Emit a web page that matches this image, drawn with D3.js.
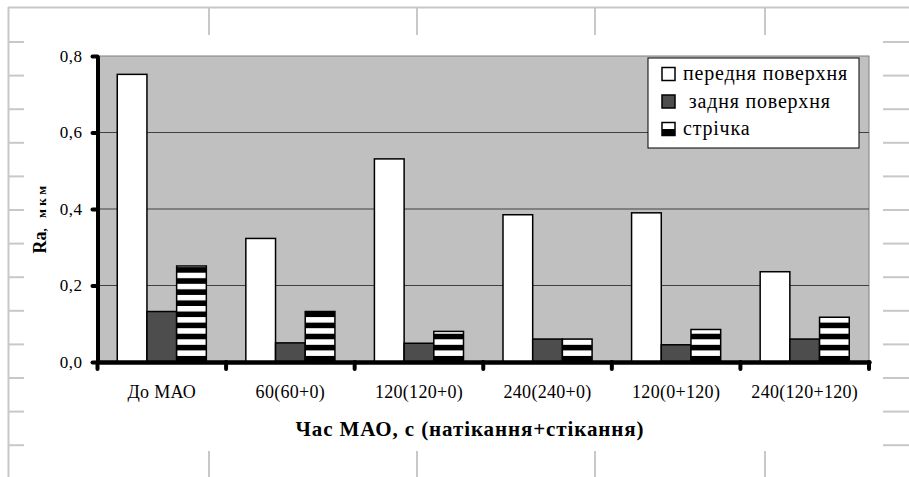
<!DOCTYPE html>
<html><head><meta charset="utf-8">
<script src="https://cdn.jsdelivr.net/npm/d3@7/dist/d3.min.js"></script>
</head><body style="margin:0;background:#fff">
<script>
const categories = ["До МАО","60(60+0)","120(120+0)","240(240+0)","120(0+120)","240(120+120)"];
const seriesNames = ["передня поверхня"," задня поверхня","стрічка"];
const front = [0.752,0.323,0.531,0.385,0.390,0.236];
const back  = [0.132,0.050,0.049,0.060,0.045,0.060];
const strip = [0.251,0.132,0.080,0.060,0.085,0.117];
const yTicks = [0,0.2,0.4,0.6,0.8];
const xTitle = "Час МАО, с (натікання+стікання)";

const FONT='"Liberation Serif", "Times New Roman", serif';
const W=909,H=477;
const svg=d3.select("body").append("svg").attr("width",W).attr("height",H).style("display","block");
const defs=svg.append("defs");
const pat=defs.append("pattern").attr("id","stripes").attr("patternUnits","userSpaceOnUse")
  .attr("x",0).attr("y",272.7).attr("width",10).attr("height",11.1);
pat.append("rect").attr("width",10).attr("height",11.1).attr("fill","#000");
pat.append("rect").attr("width",10).attr("height",5.5).attr("fill","#fff");

// spreadsheet cell grid around the chart
const grid=svg.append("g").attr("stroke","#c8c8c8").attr("stroke-width",2);
grid.append("line").attr("x1",8).attr("x2",W).attr("y1",7.5).attr("y2",7.5);
grid.append("line").attr("x1",8.5).attr("x2",8.5).attr("y1",7).attr("y2",H);
[209,417,595,765].forEach(x=>{
  grid.append("line").attr("x1",x).attr("x2",x).attr("y1",8).attr("y2",35);
  grid.append("line").attr("x1",x).attr("x2",x).attr("y1",451).attr("y2",H);
});
d3.range(13).forEach(i=>{
  const yy=42+i*33.6;
  grid.append("line").attr("x1",8).attr("x2",24).attr("y1",yy).attr("y2",yy);
  grid.append("line").attr("x1",883).attr("x2",W).attr("y1",yy).attr("y2",yy);
});

const m={l:97.5,r:869,t:56,b:362};
const x0=d3.scaleBand().domain(categories).range([m.l,m.r]).padding(0);
const x1=d3.scaleBand().domain(seriesNames).range([0,x0.bandwidth()]).paddingInner(0).paddingOuter(0.665);
const y=d3.scaleLinear().domain([0,0.8]).range([m.b,m.t]);

svg.append("rect").attr("x",m.l).attr("y",m.t).attr("width",m.r-m.l).attr("height",m.b-m.t)
  .attr("fill","#c0c0c0").attr("stroke","#808080").attr("stroke-width",1);
svg.append("g").selectAll("line").data(yTicks.filter(v=>v>0&&v<0.8)).join("line")
  .attr("x1",m.l).attr("x2",m.r).attr("y1",d=>y(d)).attr("y2",d=>y(d))
  .attr("stroke","#404040").attr("stroke-width",1);

const series=[front,back,strip];
const fills=["#fff","#4d4d4d","url(#stripes)"];
const data=[];
categories.forEach((c,i)=>seriesNames.forEach((s,j)=>data.push({c,s,j,v:series[j][i]})));
svg.append("g").selectAll("rect").data(data).join("rect")
  .attr("x",d=>x0(d.c)+x1(d.s)).attr("width",x1.bandwidth())
  .attr("y",d=>y(d.v)).attr("height",d=>y(0)-y(d.v))
  .attr("fill",d=>fills[d.j]).attr("stroke","#000").attr("stroke-width",1.5);

// y axis
const fmt=v=>d3.format(".1f")(v).replace(".",",");
const ya=svg.append("g").attr("transform",`translate(${m.l},0)`)
  .call(d3.axisLeft(y).tickValues(yTicks).tickFormat(fmt).tickSize(5).tickSizeOuter(0).tickPadding(10));
ya.select(".domain").attr("stroke","#000").attr("stroke-width",4);
ya.selectAll(".tick line").attr("stroke","#000").attr("stroke-width",4).attr("stroke-linecap","round");
ya.selectAll("text").style("font-family",FONT).style("font-size","17px").attr("fill","#000")
  .attr("letter-spacing",0.5);

// x axis
const xa=svg.append("g").attr("transform",`translate(0,${m.b})`)
  .call(d3.axisBottom(x0).tickSize(0).tickPadding(36));
xa.select(".domain").attr("stroke","#000").attr("stroke-width",4.5).attr("stroke-linecap","round");
xa.selectAll("text").style("font-family",FONT).style("font-size","18px").attr("fill","#000")
  .attr("letter-spacing",0.3).attr("dy","0");
const bounds=categories.map(c=>x0(c)).concat([x0.range()[1]]);
xa.append("g").selectAll("line").data(bounds).join("line")
  .attr("x1",d=>d).attr("x2",d=>d).attr("y1",0).attr("y2",7)
  .attr("stroke","#000").attr("stroke-width",4).attr("stroke-linecap","round");

// titles
svg.append("text").attr("x",470).attr("y",436).attr("text-anchor","middle")
  .style("font-family",FONT).style("font-size","21px").style("font-weight","bold")
  .attr("letter-spacing",0.9).text(xTitle);
const yt=svg.append("text").attr("transform","translate(46,218) rotate(-90)").attr("text-anchor","middle")
  .style("font-family",FONT).style("font-weight","bold");
yt.append("tspan").style("font-size","18px").text("Ra");
yt.append("tspan").style("font-size","13px").attr("letter-spacing",3.5).style("white-space","pre").text(", мкм");

// legend
const lg=svg.append("g");
lg.append("rect").attr("x",648).attr("y",58).attr("width",211).attr("height",90)
  .attr("fill","#fff").attr("stroke","#000").attr("stroke-width",1);
const rows=lg.selectAll("g.row").data(seriesNames).join("g").attr("class","row")
  .attr("transform",(d,i)=>`translate(662,${74+i*27.5})`);
rows.append("rect").attr("x",0).attr("y",-6.5).attr("width",13).attr("height",13)
  .attr("fill",(d,i)=>i===1?"#4d4d4d":"#fff").attr("stroke","#000").attr("stroke-width",1.5);
rows.filter((d,i)=>i===2).append("rect").attr("x",0).attr("y",0).attr("width",13).attr("height",6.5).attr("fill","#000");
rows.append("text").attr("x",21).attr("y",0).attr("dy","0.32em")
  .style("font-family",FONT).style("font-size","20px").style("white-space","pre")
  .attr("letter-spacing",0.8).text(d=>d);
</script>
</body></html>
